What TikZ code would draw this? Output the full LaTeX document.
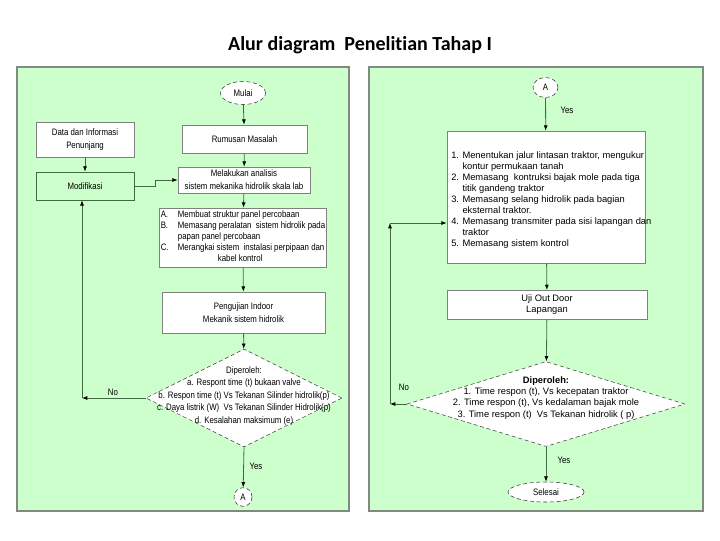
\documentclass[tikz,border=0pt]{standalone}
\usepackage{fontspec}
\setmainfont{Liberation Sans}
\newfontfamily\judulfont[Ligatures=NoCommon]{Carlito}
\newfontfamily\sempit[FakeStretch=0.84]{Liberation Sans}
\usetikzlibrary{shapes, shapes.geometric, arrows.meta, positioning}
\definecolor{hijaumuda}{HTML}{CCFFCC}
\definecolor{garis}{HTML}{3F6A3F}
\definecolor{bingkai}{HTML}{808A80}
\tikzstyle{panel} = [draw=bingkai, fill=hijaumuda, line width=0.9pt]
\tikzstyle{kotak} = [draw=gray, fill=white, rectangle, inner sep=1pt, align=center, font=\sempit\fontsize{7}{9.6}\selectfont]
\tikzstyle{kotakhijau} = [kotak, draw=garis, fill=hijaumuda]
\tikzstyle{kotakkanan} = [draw=gray, fill=white, rectangle, inner sep=1pt, font=\fontsize{7}{8.3}\selectfont]
\tikzstyle{ellips} = [draw=black!80, densely dashed, fill=white, ellipse, inner sep=0pt, font=\sempit\fontsize{7}{8}\selectfont]
\tikzstyle{keputusan} = [draw=black!75, densely dashed, fill=white, diamond, inner sep=0pt]
\tikzstyle{isikiri} = [align=center, inner sep=0pt, font=\sempit\fontsize{7}{9.4}\selectfont]
\tikzstyle{isikanan} = [align=center, inner sep=0pt, font=\fontsize{7}{8.3}\selectfont]
\tikzstyle{ket} = [inner sep=0pt, font=\sempit\fontsize{7}{8}\selectfont]
\tikzstyle{panah} = [draw=garis, line width=0.6pt, -{Latex[black,length=4pt,width=3pt]}]

\begin{document}
\begin{tikzpicture}[x=0.75pt, y=-0.75pt]
	\useasboundingbox (0,0) rectangle (720,540);
	\node[font=\judulfont\bfseries\fontsize{15}{17}\selectfont] (judul) at (360,45) {Alur diagram \ Penelitian Tahap I};
	\draw[panel] (17,67) rectangle (349,511);
	\draw[panel] (369,67) rectangle (703,511);
	% tahap laboratorium
	\node[ellips, minimum width=33.75pt, minimum height=17.25pt] (mulai) at (243,93) {Mulai};
	\node[kotak, minimum width=93.75pt, minimum height=21pt] (rumusan) at (244.5,139) {Rumusan Masalah};
	\node[kotak, minimum width=73.5pt, minimum height=26.25pt] (data) at (85,139.5) {Data dan Informasi\\Penunjang};
	\node[kotakhijau, minimum width=73.5pt, minimum height=21pt] (modif) at (85,186) {Modifikasi};
	\node[kotak, minimum width=99pt, minimum height=19.5pt] (analisis) at (244,180) {Melakukan analisis\\sistem mekanika hidrolik skala lab};
	\node[kotak, minimum width=120pt, minimum height=44.25pt, font=\sempit\fontsize{7}{8.3}\selectfont] (persiapan) at (243,237.5) {%
		\begin{tabular}{@{}l@{\hspace{7pt}}l@{}}
			A. & Membuat struktur panel percobaan\\
			B. & Memasang peralatan \ sistem hidrolik pada\\
			   & papan panel percobaan\\
			C. & Merangkai sistem \ instalasi perpipaan dan\\
			   & \hspace{30pt}kabel kontrol
		\end{tabular}};
	\node[kotak, minimum width=122.25pt, minimum height=30.75pt] (indoor) at (243.5,312.5) {Pengujian Indoor\\Mekanik sistem hidrolik};
	\node[keputusan, minimum width=147pt, minimum height=73.5pt] (kep1) at (244,398) {};
	\node[isikiri] (hasil1) at (244,396) {Diperoleh:\\
		a. Respont time (t) bukaan valve\\
		b. Respon time (t) Vs Tekanan Silinder hidrolik(p)\\
		c. Daya listrik (W) \ Vs Tekanan Silinder Hidrolik(p)\\
		d. Kesalahan maksimum (e)};
	\node[ellips, minimum width=13.5pt, minimum height=14pt] (akhir1) at (243,497) {A};
	\coordinate (balik1) at (82,398);

	\draw[panah] (mulai) -- (rumusan);
	\draw[panah] (rumusan) -- (analisis);
	\draw[panah] (data) -- (modif);
	\draw[panah] (modif.east) -- ++(21,0) |- (analisis.west);
	\draw[panah] (analisis) -- (persiapan);
	\draw[panah] (persiapan) -- (indoor);
	\draw[panah] (indoor) -- (kep1);
	\draw[panah] (kep1.west) -- (balik1);
	\draw[panah] (balik1) -- (balik1 |- modif.south);
	\draw[panah] (kep1.south) -- (akhir1);
	\node[ket] (tidak1) at (113,392) {No};
	\node[ket] (ya1) at (256,466) {Yes};

	% tahap lapangan
	\node[ellips, minimum width=18.75pt, minimum height=15pt] (awal2) at (545.5,87.5) {A};
	\node[kotakkanan, minimum width=148.5pt, minimum height=99pt] (langkah) at (546,197) {};
	\node[isikanan, align=left, anchor=north west] (isilangkah) at (451,151) {%
		1. Menentukan jalur lintasan traktor, mengukur\\
		\phantom{1. }kontur permukaan tanah\\
		2. Memasang \ kontruksi bajak mole pada tiga\\
		\phantom{1. }titik gandeng traktor\\
		3. Memasang selang hidrolik pada bagian\\
		\phantom{1. }eksternal traktor.\\
		4. Memasang transmiter pada sisi lapangan dan\\
		\phantom{1. }traktor\\
		5. Memasang sistem kontrol};
	\node[kotakkanan, align=center, minimum width=150pt, minimum height=22pt] (uji) at (547,305) {Uji Out Door\\Lapangan};
	\node[keputusan, minimum width=208.5pt, minimum height=63.75pt] (kep2) at (546,404) {};
	\node[isikanan] (hasil2) at (546,398) {\textbf{Diperoleh:}\\
		1. Time respon (t), Vs kecepatan traktor\\
		2. Time respon (t), Vs kedalaman bajak mole\\
		3. Time respon (t) \ Vs Tekanan hidrolik ( p)};
	\node[ellips, minimum width=57pt, minimum height=15pt] (selesai) at (546,492) {Selesai};
	\coordinate (balik2) at (390,404);
	\coordinate (atas2) at (390,223);

	\draw[panah] (awal2) -- (langkah);
	\draw[panah] (langkah) -- (uji);
	\draw[panah] (uji) -- (kep2);
	\draw[panah] (kep2.west) -- (balik2);
	\draw[panah] (balik2) -- (atas2);
	\draw[panah] (atas2) -- (atas2 -| langkah.west);
	\draw[panah] (kep2.south) -- (selesai);
	\node[ket] (ya2a) at (567,110) {Yes};
	\node[ket] (tidak2) at (404,387) {No};
	\node[ket] (ya2) at (564,460) {Yes};
\end{tikzpicture}
\end{document}
